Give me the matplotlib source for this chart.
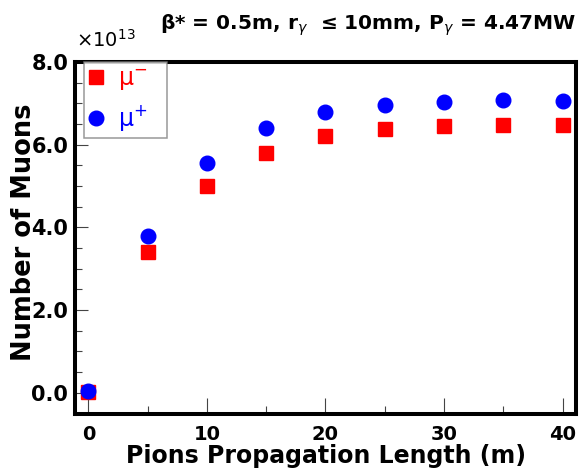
import matplotlib
matplotlib.use("Agg")
import matplotlib.pyplot as plt
from matplotlib.ticker import MultipleLocator, FormatStrFormatter

# Pion propagation length (m) and muon yields (units of 1e13)
length_m = [0, 5, 10, 15, 20, 25, 30, 35, 40]
mu_minus = [0.02, 3.40, 5.00, 5.80, 6.22, 6.38, 6.45, 6.47, 6.47]
mu_plus = [0.05, 3.80, 5.55, 6.40, 6.78, 6.97, 7.04, 7.07, 7.05]

plt.rcParams['font.family'] = ['DejaVu Sans']
plt.rcParams['mathtext.fontset'] = 'dejavusans'

W, H = 579, 470
fig = plt.figure(figsize=(W / 100, H / 100), dpi=100)
L, R, T, B = 75.3, 575.8, 62.0, 413.7
ax = fig.add_axes([L / W, 1 - B / H, (R - L) / W, (B - T) / H])

ax.plot(length_m, mu_minus, linestyle='none', marker='s', markersize=10,
        color='#ff0000', mec='#ff0000', label='μ$^{-}$', zorder=3)
ax.plot(length_m, mu_plus, linestyle='none', marker='o', markersize=10.5,
        color='#0000ff', mec='#0000ff', label='μ$^{+}$', zorder=4)

ax.set_xlim(-1.1, 41.12)
ax.set_ylim(-0.51, 8.0)

ax.xaxis.set_major_locator(MultipleLocator(10))
ax.xaxis.set_minor_locator(MultipleLocator(5))
ax.yaxis.set_major_locator(MultipleLocator(2))
ax.yaxis.set_minor_locator(MultipleLocator(0.5))
ax.yaxis.set_major_formatter(FormatStrFormatter('%.1f'))

ax.tick_params(axis='both', which='both', direction='in', top=False, right=False,
               color='#444444', width=0.8)
ax.tick_params(axis='x', which='major', length=11.5, pad=8, labelsize=14)
ax.tick_params(axis='x', which='minor', length=5.8)
ax.tick_params(axis='y', which='major', length=9.4, pad=5, labelsize=15)
ax.tick_params(axis='y', which='minor', length=5.3)
for lbl in ax.get_xticklabels() + ax.get_yticklabels():
    lbl.set_fontweight('bold')

for sp in ax.spines.values():
    sp.set_linewidth(2.9)
    sp.set_color('black')

fig.text(326 / W, 1 - 463 / H, 'Pions Propagation Length (m)', fontsize=17,
         fontweight='bold', ha='center', va='baseline')
fig.text(24 / W, 1 - 232.5 / H, 'Number of Muons', fontsize=18.5,
         fontweight='bold', ha='center', va='center', rotation=90)

fig.text(76 / W, 1 - 47 / H, '×10$^{13}$', fontsize=14,
         ha='left', va='baseline')
fig.text(577 / W, 1 - 30 / H,
         'β* = 0.5m, r$_{\\gamma}$  ≤ 10mm, P$_{\\gamma}$ = 4.47MW',
         fontsize=14.5, fontweight='bold', ha='right', va='baseline')

leg_x0 = (84 - L) / (R - L)
leg_w = (167 - 84) / (R - L)
leg = ax.legend(loc='upper left', bbox_to_anchor=(leg_x0, 1.0, leg_w, 0.0),
                mode='expand', fontsize=17,
                frameon=True, fancybox=False, edgecolor='#808080',
                borderpad=0.2, handletextpad=0.65, handlelength=0.6,
                labelspacing=0.45, borderaxespad=0.0)
leg.get_frame().set_linewidth(1.1)
for txt, col in zip(leg.get_texts(), ['#ff0000', '#0000ff']):
    txt.set_color(col)

fig.savefig('out.png', dpi=100)
